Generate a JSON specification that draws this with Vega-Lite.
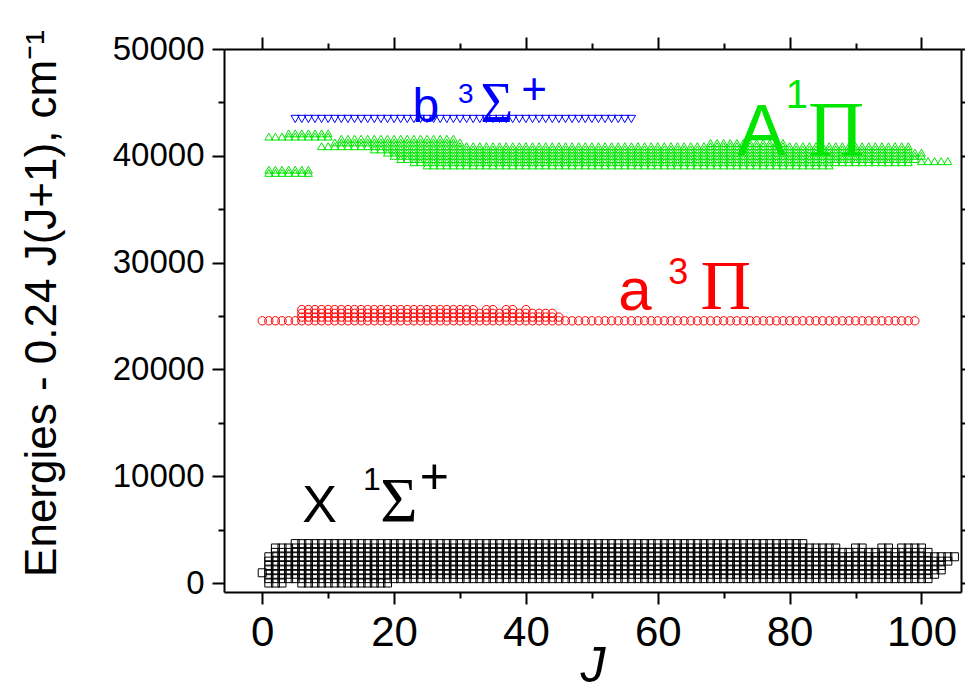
{
"$schema":"https://vega.github.io/schema/vega-lite/v6.json",
"width":737,"height":543,
"autosize":{"type":"none"},
"padding":{"left":224,"top":49,"right":4,"bottom":100},
"background":"white",
"config":{"view":{"stroke":null},"font":"Liberation Sans","axis":{"grid":false,"domainColor":"black","tickColor":"black","labelColor":"black","titleColor":"black","domainWidth":2,"tickWidth":2,"labelFont":"Liberation Sans","titleFont":"Liberation Sans","titleFontWeight":"normal"}},
"datasets":{
"X":[{"j":0,"e":960},
{"j":1,"e":0},{"j":2,"e":0},{"j":3,"e":0},{"j":6,"e":0},{"j":7,"e":0},{"j":8,"e":0},{"j":9,"e":0},{"j":10,"e":0},{"j":11,"e":0},{"j":12,"e":0},{"j":13,"e":0},{"j":14,"e":0},{"j":15,"e":0},{"j":16,"e":0},{"j":17,"e":0},{"j":18,"e":0},{"j":19,"e":0},
{"j":1,"e":410},{"j":2,"e":410},{"j":3,"e":410},{"j":4,"e":410},{"j":5,"e":410},{"j":6,"e":410},{"j":7,"e":410},{"j":8,"e":410},{"j":9,"e":410},{"j":10,"e":410},{"j":11,"e":410},{"j":12,"e":410},{"j":13,"e":410},{"j":14,"e":410},{"j":15,"e":410},{"j":16,"e":410},{"j":17,"e":410},{"j":18,"e":410},{"j":19,"e":410},{"j":20,"e":410},{"j":21,"e":410},{"j":22,"e":410},{"j":23,"e":410},{"j":24,"e":410},{"j":25,"e":410},{"j":26,"e":410},{"j":27,"e":410},{"j":28,"e":410},{"j":29,"e":410},{"j":30,"e":410},{"j":31,"e":410},{"j":32,"e":410},{"j":33,"e":410},{"j":34,"e":410},{"j":35,"e":410},{"j":36,"e":410},{"j":37,"e":410},{"j":38,"e":410},{"j":39,"e":410},{"j":40,"e":410},{"j":41,"e":410},{"j":42,"e":410},{"j":43,"e":410},{"j":44,"e":410},{"j":45,"e":410},{"j":46,"e":410},{"j":47,"e":410},{"j":48,"e":410},{"j":49,"e":410},{"j":50,"e":410},{"j":51,"e":410},{"j":52,"e":410},{"j":53,"e":410},{"j":54,"e":410},{"j":55,"e":410},{"j":56,"e":410},{"j":57,"e":410},{"j":58,"e":410},{"j":59,"e":410},{"j":60,"e":410},{"j":61,"e":410},{"j":62,"e":410},{"j":63,"e":410},{"j":64,"e":410},{"j":65,"e":410},{"j":66,"e":410},{"j":67,"e":410},{"j":68,"e":410},{"j":69,"e":410},{"j":70,"e":410},{"j":71,"e":410},{"j":72,"e":410},{"j":73,"e":410},{"j":74,"e":410},{"j":75,"e":410},{"j":76,"e":410},{"j":77,"e":410},{"j":78,"e":410},{"j":79,"e":410},{"j":80,"e":410},{"j":81,"e":410},{"j":82,"e":410},{"j":83,"e":410},{"j":84,"e":410},{"j":85,"e":410},{"j":86,"e":410},{"j":87,"e":410},{"j":88,"e":410},{"j":89,"e":410},{"j":90,"e":410},{"j":91,"e":410},{"j":92,"e":410},{"j":93,"e":410},{"j":94,"e":410},{"j":95,"e":410},{"j":96,"e":410},{"j":97,"e":410},{"j":98,"e":410},{"j":99,"e":410},{"j":100,"e":410},{"j":101,"e":410},
{"j":1,"e":820},{"j":2,"e":820},{"j":3,"e":820},{"j":4,"e":820},{"j":5,"e":820},{"j":6,"e":820},{"j":7,"e":820},{"j":8,"e":820},{"j":9,"e":820},{"j":10,"e":820},{"j":11,"e":820},{"j":12,"e":820},{"j":13,"e":820},{"j":14,"e":820},{"j":15,"e":820},{"j":16,"e":820},{"j":17,"e":820},{"j":18,"e":820},{"j":19,"e":820},{"j":20,"e":820},{"j":21,"e":820},{"j":22,"e":820},{"j":23,"e":820},{"j":24,"e":820},{"j":25,"e":820},{"j":26,"e":820},{"j":27,"e":820},{"j":28,"e":820},{"j":29,"e":820},{"j":30,"e":820},{"j":31,"e":820},{"j":32,"e":820},{"j":33,"e":820},{"j":34,"e":820},{"j":35,"e":820},{"j":36,"e":820},{"j":37,"e":820},{"j":38,"e":820},{"j":39,"e":820},{"j":40,"e":820},{"j":41,"e":820},{"j":42,"e":820},{"j":43,"e":820},{"j":44,"e":820},{"j":45,"e":820},{"j":46,"e":820},{"j":47,"e":820},{"j":48,"e":820},{"j":49,"e":820},{"j":50,"e":820},{"j":51,"e":820},{"j":52,"e":820},{"j":53,"e":820},{"j":54,"e":820},{"j":55,"e":820},{"j":56,"e":820},{"j":57,"e":820},{"j":58,"e":820},{"j":59,"e":820},{"j":60,"e":820},{"j":61,"e":820},{"j":62,"e":820},{"j":63,"e":820},{"j":64,"e":820},{"j":65,"e":820},{"j":66,"e":820},{"j":67,"e":820},{"j":68,"e":820},{"j":69,"e":820},{"j":70,"e":820},{"j":71,"e":820},{"j":72,"e":820},{"j":73,"e":820},{"j":74,"e":820},{"j":75,"e":820},{"j":76,"e":820},{"j":77,"e":820},{"j":78,"e":820},{"j":79,"e":820},{"j":80,"e":820},{"j":81,"e":820},{"j":82,"e":820},{"j":83,"e":820},{"j":84,"e":820},{"j":85,"e":820},{"j":86,"e":820},{"j":87,"e":820},{"j":88,"e":820},{"j":89,"e":820},{"j":90,"e":820},{"j":91,"e":820},{"j":92,"e":820},{"j":93,"e":820},{"j":94,"e":820},{"j":95,"e":820},{"j":96,"e":820},{"j":97,"e":820},{"j":98,"e":820},{"j":99,"e":820},{"j":100,"e":820},{"j":101,"e":820},{"j":102,"e":820},
{"j":1,"e":1230},{"j":2,"e":1230},{"j":3,"e":1230},{"j":4,"e":1230},{"j":5,"e":1230},{"j":6,"e":1230},{"j":7,"e":1230},{"j":8,"e":1230},{"j":9,"e":1230},{"j":10,"e":1230},{"j":11,"e":1230},{"j":12,"e":1230},{"j":13,"e":1230},{"j":14,"e":1230},{"j":15,"e":1230},{"j":16,"e":1230},{"j":17,"e":1230},{"j":18,"e":1230},{"j":19,"e":1230},{"j":20,"e":1230},{"j":21,"e":1230},{"j":22,"e":1230},{"j":23,"e":1230},{"j":24,"e":1230},{"j":25,"e":1230},{"j":26,"e":1230},{"j":27,"e":1230},{"j":28,"e":1230},{"j":29,"e":1230},{"j":30,"e":1230},{"j":31,"e":1230},{"j":32,"e":1230},{"j":33,"e":1230},{"j":34,"e":1230},{"j":35,"e":1230},{"j":36,"e":1230},{"j":37,"e":1230},{"j":38,"e":1230},{"j":39,"e":1230},{"j":40,"e":1230},{"j":41,"e":1230},{"j":42,"e":1230},{"j":43,"e":1230},{"j":44,"e":1230},{"j":45,"e":1230},{"j":46,"e":1230},{"j":47,"e":1230},{"j":48,"e":1230},{"j":49,"e":1230},{"j":50,"e":1230},{"j":51,"e":1230},{"j":52,"e":1230},{"j":53,"e":1230},{"j":54,"e":1230},{"j":55,"e":1230},{"j":56,"e":1230},{"j":57,"e":1230},{"j":58,"e":1230},{"j":59,"e":1230},{"j":60,"e":1230},{"j":61,"e":1230},{"j":62,"e":1230},{"j":63,"e":1230},{"j":64,"e":1230},{"j":65,"e":1230},{"j":66,"e":1230},{"j":67,"e":1230},{"j":68,"e":1230},{"j":69,"e":1230},{"j":70,"e":1230},{"j":71,"e":1230},{"j":72,"e":1230},{"j":73,"e":1230},{"j":74,"e":1230},{"j":75,"e":1230},{"j":76,"e":1230},{"j":77,"e":1230},{"j":78,"e":1230},{"j":79,"e":1230},{"j":80,"e":1230},{"j":81,"e":1230},{"j":82,"e":1230},{"j":83,"e":1230},{"j":84,"e":1230},{"j":85,"e":1230},{"j":86,"e":1230},{"j":87,"e":1230},{"j":88,"e":1230},{"j":89,"e":1230},{"j":90,"e":1230},{"j":91,"e":1230},{"j":92,"e":1230},{"j":93,"e":1230},{"j":94,"e":1230},{"j":95,"e":1230},{"j":96,"e":1230},{"j":97,"e":1230},{"j":98,"e":1230},{"j":99,"e":1230},{"j":100,"e":1230},{"j":101,"e":1230},{"j":102,"e":1230},{"j":103,"e":1230},
{"j":1,"e":1640},{"j":2,"e":1640},{"j":3,"e":1640},{"j":4,"e":1640},{"j":5,"e":1640},{"j":6,"e":1640},{"j":7,"e":1640},{"j":8,"e":1640},{"j":9,"e":1640},{"j":10,"e":1640},{"j":11,"e":1640},{"j":12,"e":1640},{"j":13,"e":1640},{"j":14,"e":1640},{"j":15,"e":1640},{"j":16,"e":1640},{"j":17,"e":1640},{"j":18,"e":1640},{"j":19,"e":1640},{"j":20,"e":1640},{"j":21,"e":1640},{"j":22,"e":1640},{"j":23,"e":1640},{"j":24,"e":1640},{"j":25,"e":1640},{"j":26,"e":1640},{"j":27,"e":1640},{"j":28,"e":1640},{"j":29,"e":1640},{"j":30,"e":1640},{"j":31,"e":1640},{"j":32,"e":1640},{"j":33,"e":1640},{"j":34,"e":1640},{"j":35,"e":1640},{"j":36,"e":1640},{"j":37,"e":1640},{"j":38,"e":1640},{"j":39,"e":1640},{"j":40,"e":1640},{"j":41,"e":1640},{"j":42,"e":1640},{"j":43,"e":1640},{"j":44,"e":1640},{"j":45,"e":1640},{"j":46,"e":1640},{"j":47,"e":1640},{"j":48,"e":1640},{"j":49,"e":1640},{"j":50,"e":1640},{"j":51,"e":1640},{"j":52,"e":1640},{"j":53,"e":1640},{"j":54,"e":1640},{"j":55,"e":1640},{"j":56,"e":1640},{"j":57,"e":1640},{"j":58,"e":1640},{"j":59,"e":1640},{"j":60,"e":1640},{"j":61,"e":1640},{"j":62,"e":1640},{"j":63,"e":1640},{"j":64,"e":1640},{"j":65,"e":1640},{"j":66,"e":1640},{"j":67,"e":1640},{"j":68,"e":1640},{"j":69,"e":1640},{"j":70,"e":1640},{"j":71,"e":1640},{"j":72,"e":1640},{"j":73,"e":1640},{"j":74,"e":1640},{"j":75,"e":1640},{"j":76,"e":1640},{"j":77,"e":1640},{"j":78,"e":1640},{"j":79,"e":1640},{"j":80,"e":1640},{"j":81,"e":1640},{"j":82,"e":1640},{"j":83,"e":1640},{"j":84,"e":1640},{"j":85,"e":1640},{"j":86,"e":1640},{"j":87,"e":1640},{"j":88,"e":1640},{"j":89,"e":1640},{"j":90,"e":1640},{"j":91,"e":1640},{"j":92,"e":1640},{"j":93,"e":1640},{"j":94,"e":1640},{"j":95,"e":1640},{"j":96,"e":1640},{"j":97,"e":1640},{"j":98,"e":1640},{"j":99,"e":1640},{"j":100,"e":1640},{"j":101,"e":1640},{"j":102,"e":1640},{"j":103,"e":1640},
{"j":1,"e":2050},{"j":2,"e":2050},{"j":3,"e":2050},{"j":4,"e":2050},{"j":5,"e":2050},{"j":6,"e":2050},{"j":7,"e":2050},{"j":8,"e":2050},{"j":9,"e":2050},{"j":10,"e":2050},{"j":11,"e":2050},{"j":12,"e":2050},{"j":13,"e":2050},{"j":14,"e":2050},{"j":15,"e":2050},{"j":16,"e":2050},{"j":17,"e":2050},{"j":18,"e":2050},{"j":19,"e":2050},{"j":20,"e":2050},{"j":21,"e":2050},{"j":22,"e":2050},{"j":23,"e":2050},{"j":24,"e":2050},{"j":25,"e":2050},{"j":26,"e":2050},{"j":27,"e":2050},{"j":28,"e":2050},{"j":29,"e":2050},{"j":30,"e":2050},{"j":31,"e":2050},{"j":32,"e":2050},{"j":33,"e":2050},{"j":34,"e":2050},{"j":35,"e":2050},{"j":36,"e":2050},{"j":37,"e":2050},{"j":38,"e":2050},{"j":39,"e":2050},{"j":40,"e":2050},{"j":41,"e":2050},{"j":42,"e":2050},{"j":43,"e":2050},{"j":44,"e":2050},{"j":45,"e":2050},{"j":46,"e":2050},{"j":47,"e":2050},{"j":48,"e":2050},{"j":49,"e":2050},{"j":50,"e":2050},{"j":51,"e":2050},{"j":52,"e":2050},{"j":53,"e":2050},{"j":54,"e":2050},{"j":55,"e":2050},{"j":56,"e":2050},{"j":57,"e":2050},{"j":58,"e":2050},{"j":59,"e":2050},{"j":60,"e":2050},{"j":61,"e":2050},{"j":62,"e":2050},{"j":63,"e":2050},{"j":64,"e":2050},{"j":65,"e":2050},{"j":66,"e":2050},{"j":67,"e":2050},{"j":68,"e":2050},{"j":69,"e":2050},{"j":70,"e":2050},{"j":71,"e":2050},{"j":72,"e":2050},{"j":73,"e":2050},{"j":74,"e":2050},{"j":75,"e":2050},{"j":76,"e":2050},{"j":77,"e":2050},{"j":78,"e":2050},{"j":79,"e":2050},{"j":80,"e":2050},{"j":81,"e":2050},{"j":82,"e":2050},{"j":83,"e":2050},{"j":84,"e":2050},{"j":85,"e":2050},{"j":86,"e":2050},{"j":87,"e":2050},{"j":88,"e":2050},{"j":89,"e":2050},{"j":90,"e":2050},{"j":91,"e":2050},{"j":92,"e":2050},{"j":93,"e":2050},{"j":94,"e":2050},{"j":95,"e":2050},{"j":96,"e":2050},{"j":97,"e":2050},{"j":98,"e":2050},{"j":99,"e":2050},{"j":100,"e":2050},{"j":101,"e":2050},{"j":102,"e":2050},{"j":103,"e":2050},{"j":104,"e":2050},
{"j":1,"e":2460},{"j":2,"e":2460},{"j":3,"e":2460},{"j":4,"e":2460},{"j":5,"e":2460},{"j":6,"e":2460},{"j":7,"e":2460},{"j":8,"e":2460},{"j":9,"e":2460},{"j":10,"e":2460},{"j":11,"e":2460},{"j":12,"e":2460},{"j":13,"e":2460},{"j":14,"e":2460},{"j":15,"e":2460},{"j":16,"e":2460},{"j":17,"e":2460},{"j":18,"e":2460},{"j":19,"e":2460},{"j":20,"e":2460},{"j":21,"e":2460},{"j":22,"e":2460},{"j":23,"e":2460},{"j":24,"e":2460},{"j":25,"e":2460},{"j":26,"e":2460},{"j":27,"e":2460},{"j":28,"e":2460},{"j":29,"e":2460},{"j":30,"e":2460},{"j":31,"e":2460},{"j":32,"e":2460},{"j":33,"e":2460},{"j":34,"e":2460},{"j":35,"e":2460},{"j":36,"e":2460},{"j":37,"e":2460},{"j":38,"e":2460},{"j":39,"e":2460},{"j":40,"e":2460},{"j":41,"e":2460},{"j":42,"e":2460},{"j":43,"e":2460},{"j":44,"e":2460},{"j":45,"e":2460},{"j":46,"e":2460},{"j":47,"e":2460},{"j":48,"e":2460},{"j":49,"e":2460},{"j":50,"e":2460},{"j":51,"e":2460},{"j":52,"e":2460},{"j":53,"e":2460},{"j":54,"e":2460},{"j":55,"e":2460},{"j":56,"e":2460},{"j":57,"e":2460},{"j":58,"e":2460},{"j":59,"e":2460},{"j":60,"e":2460},{"j":61,"e":2460},{"j":62,"e":2460},{"j":63,"e":2460},{"j":64,"e":2460},{"j":65,"e":2460},{"j":66,"e":2460},{"j":67,"e":2460},{"j":68,"e":2460},{"j":69,"e":2460},{"j":70,"e":2460},{"j":71,"e":2460},{"j":72,"e":2460},{"j":73,"e":2460},{"j":74,"e":2460},{"j":75,"e":2460},{"j":76,"e":2460},{"j":77,"e":2460},{"j":78,"e":2460},{"j":79,"e":2460},{"j":80,"e":2460},{"j":81,"e":2460},{"j":82,"e":2460},{"j":83,"e":2460},{"j":84,"e":2460},{"j":85,"e":2460},{"j":86,"e":2460},{"j":87,"e":2460},{"j":88,"e":2460},{"j":89,"e":2460},{"j":90,"e":2460},{"j":91,"e":2460},{"j":92,"e":2460},{"j":93,"e":2460},{"j":94,"e":2460},{"j":95,"e":2460},{"j":96,"e":2460},{"j":97,"e":2460},{"j":98,"e":2460},{"j":99,"e":2460},{"j":100,"e":2460},{"j":101,"e":2460},{"j":102,"e":2460},{"j":103,"e":2460},{"j":104,"e":2460},{"j":105,"e":2460},
{"j":2,"e":2870},{"j":3,"e":2870},{"j":4,"e":2870},{"j":5,"e":2870},{"j":6,"e":2870},{"j":7,"e":2870},{"j":8,"e":2870},{"j":9,"e":2870},{"j":10,"e":2870},{"j":11,"e":2870},{"j":12,"e":2870},{"j":13,"e":2870},{"j":14,"e":2870},{"j":15,"e":2870},{"j":16,"e":2870},{"j":17,"e":2870},{"j":18,"e":2870},{"j":19,"e":2870},{"j":20,"e":2870},{"j":21,"e":2870},{"j":22,"e":2870},{"j":23,"e":2870},{"j":24,"e":2870},{"j":25,"e":2870},{"j":26,"e":2870},{"j":27,"e":2870},{"j":28,"e":2870},{"j":29,"e":2870},{"j":30,"e":2870},{"j":31,"e":2870},{"j":32,"e":2870},{"j":33,"e":2870},{"j":34,"e":2870},{"j":35,"e":2870},{"j":36,"e":2870},{"j":37,"e":2870},{"j":38,"e":2870},{"j":39,"e":2870},{"j":40,"e":2870},{"j":41,"e":2870},{"j":42,"e":2870},{"j":43,"e":2870},{"j":44,"e":2870},{"j":45,"e":2870},{"j":46,"e":2870},{"j":47,"e":2870},{"j":48,"e":2870},{"j":49,"e":2870},{"j":50,"e":2870},{"j":51,"e":2870},{"j":52,"e":2870},{"j":53,"e":2870},{"j":54,"e":2870},{"j":55,"e":2870},{"j":56,"e":2870},{"j":57,"e":2870},{"j":58,"e":2870},{"j":59,"e":2870},{"j":60,"e":2870},{"j":61,"e":2870},{"j":62,"e":2870},{"j":63,"e":2870},{"j":64,"e":2870},{"j":65,"e":2870},{"j":66,"e":2870},{"j":67,"e":2870},{"j":68,"e":2870},{"j":69,"e":2870},{"j":70,"e":2870},{"j":71,"e":2870},{"j":72,"e":2870},{"j":73,"e":2870},{"j":74,"e":2870},{"j":75,"e":2870},{"j":76,"e":2870},{"j":77,"e":2870},{"j":78,"e":2870},{"j":79,"e":2870},{"j":80,"e":2870},{"j":81,"e":2870},{"j":82,"e":2870},{"j":83,"e":2870},{"j":84,"e":2870},{"j":85,"e":2870},{"j":86,"e":2870},{"j":87,"e":2870},{"j":88,"e":2870},{"j":89,"e":2870},{"j":90,"e":2870},{"j":91,"e":2870},{"j":92,"e":2870},{"j":93,"e":2870},{"j":94,"e":2870},{"j":95,"e":2870},{"j":96,"e":2870},{"j":97,"e":2870},{"j":98,"e":2870},{"j":99,"e":2870},{"j":100,"e":2870},{"j":101,"e":2870},
{"j":2,"e":3280},{"j":3,"e":3280},{"j":4,"e":3280},{"j":5,"e":3280},{"j":6,"e":3280},{"j":7,"e":3280},{"j":8,"e":3280},{"j":9,"e":3280},{"j":10,"e":3280},{"j":11,"e":3280},{"j":12,"e":3280},{"j":13,"e":3280},{"j":14,"e":3280},{"j":15,"e":3280},{"j":16,"e":3280},{"j":17,"e":3280},{"j":18,"e":3280},{"j":19,"e":3280},{"j":20,"e":3280},{"j":21,"e":3280},{"j":22,"e":3280},{"j":23,"e":3280},{"j":24,"e":3280},{"j":25,"e":3280},{"j":26,"e":3280},{"j":27,"e":3280},{"j":28,"e":3280},{"j":29,"e":3280},{"j":30,"e":3280},{"j":31,"e":3280},{"j":32,"e":3280},{"j":33,"e":3280},{"j":34,"e":3280},{"j":35,"e":3280},{"j":36,"e":3280},{"j":37,"e":3280},{"j":38,"e":3280},{"j":39,"e":3280},{"j":40,"e":3280},{"j":41,"e":3280},{"j":42,"e":3280},{"j":43,"e":3280},{"j":44,"e":3280},{"j":45,"e":3280},{"j":46,"e":3280},{"j":47,"e":3280},{"j":48,"e":3280},{"j":49,"e":3280},{"j":50,"e":3280},{"j":51,"e":3280},{"j":52,"e":3280},{"j":53,"e":3280},{"j":54,"e":3280},{"j":55,"e":3280},{"j":56,"e":3280},{"j":57,"e":3280},{"j":58,"e":3280},{"j":59,"e":3280},{"j":60,"e":3280},{"j":61,"e":3280},{"j":62,"e":3280},{"j":63,"e":3280},{"j":64,"e":3280},{"j":65,"e":3280},{"j":66,"e":3280},{"j":67,"e":3280},{"j":68,"e":3280},{"j":69,"e":3280},{"j":70,"e":3280},{"j":71,"e":3280},{"j":72,"e":3280},{"j":73,"e":3280},{"j":74,"e":3280},{"j":75,"e":3280},{"j":76,"e":3280},{"j":77,"e":3280},{"j":78,"e":3280},{"j":79,"e":3280},{"j":80,"e":3280},{"j":81,"e":3280},{"j":82,"e":3280},{"j":83,"e":3280},{"j":84,"e":3280},{"j":85,"e":3280},{"j":86,"e":3280},{"j":87,"e":3280},{"j":90,"e":3280},{"j":91,"e":3280},{"j":94,"e":3280},{"j":95,"e":3280},{"j":97,"e":3280},{"j":98,"e":3280},{"j":99,"e":3280},{"j":100,"e":3280},
{"j":5,"e":3690},{"j":6,"e":3690},{"j":7,"e":3690},{"j":8,"e":3690},{"j":9,"e":3690},{"j":10,"e":3690},{"j":11,"e":3690},{"j":12,"e":3690},{"j":13,"e":3690},{"j":14,"e":3690},{"j":15,"e":3690},{"j":16,"e":3690},{"j":17,"e":3690},{"j":18,"e":3690},{"j":19,"e":3690},{"j":20,"e":3690},{"j":21,"e":3690},{"j":22,"e":3690},{"j":23,"e":3690},{"j":24,"e":3690},{"j":25,"e":3690},{"j":26,"e":3690},{"j":27,"e":3690},{"j":28,"e":3690},{"j":29,"e":3690},{"j":30,"e":3690},{"j":31,"e":3690},{"j":32,"e":3690},{"j":33,"e":3690},{"j":34,"e":3690},{"j":35,"e":3690},{"j":36,"e":3690},{"j":37,"e":3690},{"j":38,"e":3690},{"j":39,"e":3690},{"j":40,"e":3690},{"j":41,"e":3690},{"j":42,"e":3690},{"j":43,"e":3690},{"j":44,"e":3690},{"j":45,"e":3690},{"j":46,"e":3690},{"j":47,"e":3690},{"j":48,"e":3690},{"j":49,"e":3690},{"j":50,"e":3690},{"j":51,"e":3690},{"j":52,"e":3690},{"j":53,"e":3690},{"j":54,"e":3690},{"j":55,"e":3690},{"j":56,"e":3690},{"j":57,"e":3690},{"j":58,"e":3690},{"j":59,"e":3690},{"j":60,"e":3690},{"j":61,"e":3690},{"j":62,"e":3690},{"j":63,"e":3690},{"j":64,"e":3690},{"j":65,"e":3690},{"j":66,"e":3690},{"j":67,"e":3690},{"j":68,"e":3690},{"j":69,"e":3690},{"j":70,"e":3690},{"j":71,"e":3690},{"j":72,"e":3690},{"j":73,"e":3690},{"j":74,"e":3690},{"j":75,"e":3690},{"j":76,"e":3690},{"j":77,"e":3690},{"j":78,"e":3690},{"j":79,"e":3690},{"j":80,"e":3690},{"j":81,"e":3690},{"j":82,"e":3690}],
"a":[{"j":0,"e":24550},{"j":1,"e":24550},{"j":2,"e":24550},{"j":3,"e":24550},{"j":4,"e":24550},{"j":5,"e":24550},{"j":6,"e":24550},{"j":7,"e":24550},{"j":8,"e":24550},{"j":9,"e":24550},{"j":10,"e":24550},{"j":11,"e":24550},{"j":12,"e":24550},{"j":13,"e":24550},{"j":14,"e":24550},{"j":15,"e":24550},{"j":16,"e":24550},{"j":17,"e":24550},{"j":18,"e":24550},{"j":19,"e":24550},{"j":20,"e":24550},{"j":21,"e":24550},{"j":22,"e":24550},{"j":23,"e":24550},{"j":24,"e":24550},{"j":25,"e":24550},{"j":26,"e":24550},{"j":27,"e":24550},{"j":28,"e":24550},{"j":29,"e":24550},{"j":30,"e":24550},{"j":31,"e":24550},{"j":32,"e":24550},{"j":33,"e":24550},{"j":34,"e":24550},{"j":35,"e":24550},{"j":36,"e":24550},{"j":37,"e":24550},{"j":38,"e":24550},{"j":39,"e":24550},{"j":40,"e":24550},{"j":41,"e":24550},{"j":42,"e":24550},{"j":43,"e":24550},{"j":44,"e":24550},{"j":45,"e":24550},{"j":46,"e":24550},{"j":47,"e":24550},{"j":48,"e":24550},{"j":49,"e":24550},{"j":50,"e":24550},{"j":51,"e":24550},{"j":52,"e":24550},{"j":53,"e":24550},{"j":54,"e":24550},{"j":55,"e":24550},{"j":56,"e":24550},{"j":57,"e":24550},{"j":58,"e":24550},{"j":59,"e":24550},{"j":60,"e":24550},{"j":61,"e":24550},{"j":62,"e":24550},{"j":63,"e":24550},{"j":64,"e":24550},{"j":65,"e":24550},{"j":66,"e":24550},{"j":67,"e":24550},{"j":68,"e":24550},{"j":69,"e":24550},{"j":70,"e":24550},{"j":71,"e":24550},{"j":72,"e":24550},{"j":73,"e":24550},{"j":74,"e":24550},{"j":75,"e":24550},{"j":76,"e":24550},{"j":77,"e":24550},{"j":78,"e":24550},{"j":79,"e":24550},{"j":80,"e":24550},{"j":81,"e":24550},{"j":82,"e":24550},{"j":83,"e":24550},{"j":84,"e":24550},{"j":85,"e":24550},{"j":86,"e":24550},{"j":87,"e":24550},{"j":88,"e":24550},{"j":89,"e":24550},{"j":90,"e":24550},{"j":91,"e":24550},{"j":92,"e":24550},{"j":93,"e":24550},{"j":94,"e":24550},{"j":95,"e":24550},{"j":96,"e":24550},{"j":97,"e":24550},{"j":98,"e":24550},{"j":99,"e":24550},
{"j":6,"e":24900},{"j":7,"e":24900},{"j":8,"e":24900},{"j":9,"e":24900},{"j":10,"e":24900},{"j":11,"e":24900},{"j":12,"e":24900},{"j":13,"e":24900},{"j":14,"e":24900},{"j":15,"e":24900},{"j":16,"e":24900},{"j":17,"e":24900},{"j":18,"e":24900},{"j":19,"e":24900},{"j":20,"e":24900},{"j":21,"e":24900},{"j":22,"e":24900},{"j":23,"e":24900},{"j":24,"e":24900},{"j":25,"e":24900},{"j":26,"e":24900},{"j":27,"e":24900},{"j":28,"e":24900},{"j":29,"e":24900},{"j":30,"e":24900},{"j":31,"e":24900},{"j":32,"e":24900},{"j":33,"e":24900},{"j":34,"e":24900},{"j":35,"e":24900},{"j":36,"e":24900},{"j":37,"e":24900},{"j":38,"e":24900},{"j":39,"e":24900},{"j":40,"e":24900},{"j":41,"e":24900},{"j":42,"e":24900},{"j":43,"e":24900},{"j":44,"e":24900},{"j":45,"e":24900},
{"j":6,"e":25250},{"j":7,"e":25250},{"j":8,"e":25250},{"j":9,"e":25250},{"j":10,"e":25250},{"j":11,"e":25250},{"j":12,"e":25250},{"j":13,"e":25250},{"j":14,"e":25250},{"j":15,"e":25250},{"j":16,"e":25250},{"j":17,"e":25250},{"j":18,"e":25250},{"j":19,"e":25250},{"j":20,"e":25250},{"j":21,"e":25250},{"j":22,"e":25250},{"j":23,"e":25250},{"j":24,"e":25250},{"j":25,"e":25250},{"j":26,"e":25250},{"j":27,"e":25250},{"j":28,"e":25250},{"j":29,"e":25250},{"j":30,"e":25250},{"j":31,"e":25250},{"j":32,"e":25250},{"j":33,"e":25250},{"j":34,"e":25250},{"j":35,"e":25250},{"j":36,"e":25250},{"j":37,"e":25250},{"j":38,"e":25250},{"j":39,"e":25250},{"j":40,"e":25250},{"j":41,"e":25250},{"j":42,"e":25250},{"j":43,"e":25250},{"j":44,"e":25250},
{"j":6,"e":25600},{"j":7,"e":25600},{"j":8,"e":25600},{"j":9,"e":25600},{"j":10,"e":25600},{"j":11,"e":25600},{"j":12,"e":25600},{"j":13,"e":25600},{"j":14,"e":25600},{"j":15,"e":25600},{"j":16,"e":25600},{"j":17,"e":25600},{"j":18,"e":25600},{"j":19,"e":25600},{"j":20,"e":25600},{"j":21,"e":25600},{"j":22,"e":25600},{"j":23,"e":25600},{"j":24,"e":25600},{"j":25,"e":25600},{"j":26,"e":25600},{"j":27,"e":25600},{"j":28,"e":25600},{"j":29,"e":25600},{"j":30,"e":25600},{"j":31,"e":25600},{"j":32,"e":25600},{"j":34,"e":25600},{"j":35,"e":25600},{"j":37,"e":25600},{"j":38,"e":25600},{"j":40,"e":25600}],
"A":[{"j":1,"e":38400},{"j":2,"e":38400},{"j":3,"e":38400},{"j":4,"e":38400},{"j":5,"e":38400},{"j":6,"e":38400},{"j":7,"e":38400},
{"j":1,"e":38700},{"j":2,"e":38700},{"j":3,"e":38700},{"j":4,"e":38700},{"j":5,"e":38700},{"j":6,"e":38700},{"j":7,"e":38700},
{"j":1,"e":41800},{"j":2,"e":41800},{"j":3,"e":41800},{"j":4,"e":41800},{"j":5,"e":41800},{"j":6,"e":41800},{"j":7,"e":41800},{"j":8,"e":41800},{"j":9,"e":41800},{"j":10,"e":41800},
{"j":4,"e":42100},{"j":5,"e":42100},{"j":6,"e":42100},{"j":7,"e":42100},{"j":8,"e":42100},{"j":9,"e":42100},{"j":10,"e":42100},
{"j":12,"e":41600},{"j":13,"e":41600},{"j":14,"e":41600},{"j":15,"e":41600},{"j":16,"e":41600},{"j":17,"e":41600},{"j":18,"e":41600},{"j":19,"e":41600},{"j":20,"e":41600},{"j":21,"e":41600},{"j":22,"e":41600},{"j":23,"e":41600},{"j":24,"e":41600},{"j":25,"e":41600},{"j":26,"e":41600},{"j":27,"e":41600},{"j":28,"e":41600},{"j":29,"e":41600},
{"j":11,"e":41250},{"j":12,"e":41250},{"j":13,"e":41250},{"j":14,"e":41250},{"j":15,"e":41250},{"j":16,"e":41250},{"j":17,"e":41250},{"j":18,"e":41250},{"j":19,"e":41250},{"j":20,"e":41250},{"j":21,"e":41250},{"j":22,"e":41250},{"j":23,"e":41250},{"j":24,"e":41250},{"j":25,"e":41250},{"j":26,"e":41250},{"j":27,"e":41250},{"j":28,"e":41250},{"j":29,"e":41250},{"j":30,"e":41250},
{"j":68,"e":41200},{"j":69,"e":41200},{"j":70,"e":41200},{"j":71,"e":41200},{"j":72,"e":41200},{"j":73,"e":41200},{"j":74,"e":41200},{"j":75,"e":41200},{"j":76,"e":41200},{"j":77,"e":41200},{"j":78,"e":41200},{"j":79,"e":41200},
{"j":9,"e":40900},{"j":10,"e":40900},{"j":11,"e":40900},{"j":12,"e":40900},{"j":13,"e":40900},{"j":14,"e":40900},{"j":15,"e":40900},{"j":16,"e":40900},{"j":17,"e":40900},{"j":18,"e":40900},{"j":19,"e":40900},{"j":20,"e":40900},{"j":21,"e":40900},{"j":22,"e":40900},{"j":23,"e":40900},{"j":24,"e":40900},{"j":25,"e":40900},{"j":26,"e":40900},{"j":27,"e":40900},{"j":28,"e":40900},{"j":29,"e":40900},{"j":30,"e":40900},{"j":31,"e":40900},{"j":32,"e":40900},{"j":33,"e":40900},{"j":34,"e":40900},{"j":35,"e":40900},{"j":36,"e":40900},{"j":37,"e":40900},{"j":38,"e":40900},{"j":39,"e":40900},{"j":40,"e":40900},{"j":41,"e":40900},{"j":42,"e":40900},{"j":43,"e":40900},{"j":44,"e":40900},{"j":45,"e":40900},{"j":46,"e":40900},{"j":47,"e":40900},{"j":48,"e":40900},{"j":49,"e":40900},{"j":50,"e":40900},{"j":51,"e":40900},{"j":52,"e":40900},{"j":53,"e":40900},{"j":54,"e":40900},{"j":55,"e":40900},{"j":56,"e":40900},{"j":57,"e":40900},{"j":58,"e":40900},{"j":59,"e":40900},{"j":60,"e":40900},{"j":61,"e":40900},{"j":62,"e":40900},{"j":63,"e":40900},{"j":64,"e":40900},{"j":65,"e":40900},{"j":66,"e":40900},{"j":67,"e":40900},{"j":68,"e":40900},{"j":69,"e":40900},{"j":70,"e":40900},{"j":71,"e":40900},{"j":72,"e":40900},{"j":73,"e":40900},{"j":74,"e":40900},{"j":75,"e":40900},{"j":76,"e":40900},{"j":77,"e":40900},{"j":78,"e":40900},{"j":79,"e":40900},{"j":80,"e":40900},{"j":81,"e":40900},{"j":82,"e":40900},{"j":83,"e":40900},{"j":84,"e":40900},{"j":85,"e":40900},{"j":86,"e":40900},{"j":87,"e":40900},{"j":88,"e":40900},{"j":89,"e":40900},{"j":90,"e":40900},{"j":91,"e":40900},{"j":92,"e":40900},{"j":93,"e":40900},{"j":94,"e":40900},{"j":95,"e":40900},{"j":96,"e":40900},{"j":97,"e":40900},{"j":98,"e":40900},
{"j":17,"e":40600},{"j":18,"e":40600},{"j":19,"e":40600},{"j":20,"e":40600},{"j":21,"e":40600},{"j":22,"e":40600},{"j":23,"e":40600},{"j":24,"e":40600},{"j":25,"e":40600},{"j":26,"e":40600},{"j":27,"e":40600},{"j":28,"e":40600},{"j":29,"e":40600},{"j":30,"e":40600},{"j":31,"e":40600},{"j":32,"e":40600},{"j":33,"e":40600},{"j":34,"e":40600},{"j":35,"e":40600},{"j":36,"e":40600},{"j":37,"e":40600},{"j":38,"e":40600},{"j":39,"e":40600},{"j":40,"e":40600},{"j":41,"e":40600},{"j":42,"e":40600},{"j":43,"e":40600},{"j":44,"e":40600},{"j":45,"e":40600},{"j":46,"e":40600},{"j":47,"e":40600},{"j":48,"e":40600},{"j":49,"e":40600},{"j":50,"e":40600},{"j":51,"e":40600},{"j":52,"e":40600},{"j":53,"e":40600},{"j":54,"e":40600},{"j":55,"e":40600},{"j":56,"e":40600},{"j":57,"e":40600},{"j":58,"e":40600},{"j":59,"e":40600},{"j":60,"e":40600},{"j":61,"e":40600},{"j":62,"e":40600},{"j":63,"e":40600},{"j":64,"e":40600},{"j":65,"e":40600},{"j":66,"e":40600},{"j":67,"e":40600},{"j":68,"e":40600},{"j":69,"e":40600},{"j":70,"e":40600},{"j":71,"e":40600},{"j":72,"e":40600},{"j":73,"e":40600},{"j":74,"e":40600},{"j":75,"e":40600},{"j":76,"e":40600},{"j":77,"e":40600},{"j":78,"e":40600},{"j":79,"e":40600},{"j":80,"e":40600},{"j":81,"e":40600},{"j":82,"e":40600},{"j":83,"e":40600},{"j":84,"e":40600},{"j":85,"e":40600},{"j":86,"e":40600},{"j":87,"e":40600},{"j":88,"e":40600},{"j":89,"e":40600},{"j":90,"e":40600},{"j":91,"e":40600},{"j":92,"e":40600},{"j":93,"e":40600},{"j":94,"e":40600},{"j":95,"e":40600},{"j":96,"e":40600},{"j":97,"e":40600},{"j":98,"e":40600},
{"j":19,"e":40300},{"j":20,"e":40300},{"j":21,"e":40300},{"j":22,"e":40300},{"j":23,"e":40300},{"j":24,"e":40300},{"j":25,"e":40300},{"j":26,"e":40300},{"j":27,"e":40300},{"j":28,"e":40300},{"j":29,"e":40300},{"j":30,"e":40300},{"j":31,"e":40300},{"j":32,"e":40300},{"j":33,"e":40300},{"j":34,"e":40300},{"j":35,"e":40300},{"j":36,"e":40300},{"j":37,"e":40300},{"j":38,"e":40300},{"j":39,"e":40300},{"j":40,"e":40300},{"j":41,"e":40300},{"j":42,"e":40300},{"j":43,"e":40300},{"j":44,"e":40300},{"j":45,"e":40300},{"j":46,"e":40300},{"j":47,"e":40300},{"j":48,"e":40300},{"j":49,"e":40300},{"j":50,"e":40300},{"j":51,"e":40300},{"j":52,"e":40300},{"j":53,"e":40300},{"j":54,"e":40300},{"j":55,"e":40300},{"j":56,"e":40300},{"j":57,"e":40300},{"j":58,"e":40300},{"j":59,"e":40300},{"j":60,"e":40300},{"j":61,"e":40300},{"j":62,"e":40300},{"j":63,"e":40300},{"j":64,"e":40300},{"j":65,"e":40300},{"j":66,"e":40300},{"j":67,"e":40300},{"j":68,"e":40300},{"j":69,"e":40300},{"j":70,"e":40300},{"j":71,"e":40300},{"j":72,"e":40300},{"j":73,"e":40300},{"j":74,"e":40300},{"j":75,"e":40300},{"j":76,"e":40300},{"j":77,"e":40300},{"j":78,"e":40300},{"j":79,"e":40300},{"j":80,"e":40300},{"j":81,"e":40300},{"j":82,"e":40300},{"j":83,"e":40300},{"j":84,"e":40300},{"j":85,"e":40300},{"j":86,"e":40300},{"j":87,"e":40300},{"j":88,"e":40300},{"j":89,"e":40300},{"j":90,"e":40300},{"j":91,"e":40300},{"j":92,"e":40300},{"j":93,"e":40300},{"j":94,"e":40300},{"j":95,"e":40300},{"j":96,"e":40300},{"j":97,"e":40300},{"j":98,"e":40300},{"j":99,"e":40300},{"j":100,"e":40300},
{"j":20,"e":40000},{"j":21,"e":40000},{"j":22,"e":40000},{"j":23,"e":40000},{"j":24,"e":40000},{"j":25,"e":40000},{"j":26,"e":40000},{"j":27,"e":40000},{"j":28,"e":40000},{"j":29,"e":40000},{"j":30,"e":40000},{"j":31,"e":40000},{"j":32,"e":40000},{"j":33,"e":40000},{"j":34,"e":40000},{"j":35,"e":40000},{"j":36,"e":40000},{"j":37,"e":40000},{"j":38,"e":40000},{"j":39,"e":40000},{"j":40,"e":40000},{"j":41,"e":40000},{"j":42,"e":40000},{"j":43,"e":40000},{"j":44,"e":40000},{"j":45,"e":40000},{"j":46,"e":40000},{"j":47,"e":40000},{"j":48,"e":40000},{"j":49,"e":40000},{"j":50,"e":40000},{"j":51,"e":40000},{"j":52,"e":40000},{"j":53,"e":40000},{"j":54,"e":40000},{"j":55,"e":40000},{"j":56,"e":40000},{"j":57,"e":40000},{"j":58,"e":40000},{"j":59,"e":40000},{"j":60,"e":40000},{"j":61,"e":40000},{"j":62,"e":40000},{"j":63,"e":40000},{"j":64,"e":40000},{"j":65,"e":40000},{"j":66,"e":40000},{"j":67,"e":40000},{"j":68,"e":40000},{"j":69,"e":40000},{"j":70,"e":40000},{"j":71,"e":40000},{"j":72,"e":40000},{"j":73,"e":40000},{"j":74,"e":40000},{"j":75,"e":40000},{"j":76,"e":40000},{"j":77,"e":40000},{"j":78,"e":40000},{"j":79,"e":40000},{"j":80,"e":40000},{"j":81,"e":40000},{"j":82,"e":40000},{"j":83,"e":40000},{"j":84,"e":40000},{"j":85,"e":40000},{"j":86,"e":40000},{"j":87,"e":40000},{"j":88,"e":40000},{"j":89,"e":40000},{"j":90,"e":40000},{"j":91,"e":40000},{"j":92,"e":40000},{"j":93,"e":40000},{"j":94,"e":40000},{"j":95,"e":40000},{"j":96,"e":40000},{"j":97,"e":40000},{"j":98,"e":40000},{"j":99,"e":40000},{"j":100,"e":40000},
{"j":21,"e":39700},{"j":22,"e":39700},{"j":23,"e":39700},{"j":24,"e":39700},{"j":25,"e":39700},{"j":26,"e":39700},{"j":27,"e":39700},{"j":28,"e":39700},{"j":29,"e":39700},{"j":30,"e":39700},{"j":31,"e":39700},{"j":32,"e":39700},{"j":33,"e":39700},{"j":34,"e":39700},{"j":35,"e":39700},{"j":36,"e":39700},{"j":37,"e":39700},{"j":38,"e":39700},{"j":39,"e":39700},{"j":40,"e":39700},{"j":41,"e":39700},{"j":42,"e":39700},{"j":43,"e":39700},{"j":44,"e":39700},{"j":45,"e":39700},{"j":46,"e":39700},{"j":47,"e":39700},{"j":48,"e":39700},{"j":49,"e":39700},{"j":50,"e":39700},{"j":51,"e":39700},{"j":52,"e":39700},{"j":53,"e":39700},{"j":54,"e":39700},{"j":55,"e":39700},{"j":56,"e":39700},{"j":57,"e":39700},{"j":58,"e":39700},{"j":59,"e":39700},{"j":60,"e":39700},{"j":61,"e":39700},{"j":62,"e":39700},{"j":63,"e":39700},{"j":64,"e":39700},{"j":65,"e":39700},{"j":66,"e":39700},{"j":67,"e":39700},{"j":68,"e":39700},{"j":69,"e":39700},{"j":70,"e":39700},{"j":71,"e":39700},{"j":72,"e":39700},{"j":73,"e":39700},{"j":74,"e":39700},{"j":75,"e":39700},{"j":76,"e":39700},{"j":77,"e":39700},{"j":78,"e":39700},{"j":79,"e":39700},{"j":80,"e":39700},{"j":81,"e":39700},{"j":82,"e":39700},{"j":83,"e":39700},{"j":84,"e":39700},{"j":85,"e":39700},{"j":86,"e":39700},{"j":87,"e":39700},{"j":88,"e":39700},{"j":89,"e":39700},{"j":90,"e":39700},{"j":91,"e":39700},{"j":92,"e":39700},{"j":93,"e":39700},{"j":94,"e":39700},{"j":95,"e":39700},{"j":96,"e":39700},{"j":97,"e":39700},{"j":98,"e":39700},{"j":99,"e":39700},
{"j":23,"e":39400},{"j":24,"e":39400},{"j":25,"e":39400},{"j":26,"e":39400},{"j":27,"e":39400},{"j":28,"e":39400},{"j":29,"e":39400},{"j":30,"e":39400},{"j":31,"e":39400},{"j":32,"e":39400},{"j":33,"e":39400},{"j":34,"e":39400},{"j":35,"e":39400},{"j":36,"e":39400},{"j":37,"e":39400},{"j":38,"e":39400},{"j":39,"e":39400},{"j":40,"e":39400},{"j":41,"e":39400},{"j":42,"e":39400},{"j":43,"e":39400},{"j":44,"e":39400},{"j":45,"e":39400},{"j":46,"e":39400},{"j":47,"e":39400},{"j":48,"e":39400},{"j":49,"e":39400},{"j":50,"e":39400},{"j":51,"e":39400},{"j":52,"e":39400},{"j":53,"e":39400},{"j":54,"e":39400},{"j":55,"e":39400},{"j":56,"e":39400},{"j":57,"e":39400},{"j":58,"e":39400},{"j":59,"e":39400},{"j":60,"e":39400},{"j":61,"e":39400},{"j":62,"e":39400},{"j":63,"e":39400},{"j":64,"e":39400},{"j":65,"e":39400},{"j":66,"e":39400},{"j":67,"e":39400},{"j":68,"e":39400},{"j":69,"e":39400},{"j":70,"e":39400},{"j":71,"e":39400},{"j":72,"e":39400},{"j":73,"e":39400},{"j":74,"e":39400},{"j":75,"e":39400},{"j":76,"e":39400},{"j":77,"e":39400},{"j":78,"e":39400},{"j":79,"e":39400},{"j":80,"e":39400},{"j":81,"e":39400},{"j":82,"e":39400},{"j":83,"e":39400},{"j":84,"e":39400},{"j":85,"e":39400},{"j":86,"e":39400},{"j":87,"e":39400},{"j":88,"e":39400},{"j":89,"e":39400},{"j":90,"e":39400},{"j":91,"e":39400},{"j":92,"e":39400},{"j":93,"e":39400},{"j":94,"e":39400},{"j":95,"e":39400},{"j":96,"e":39400},{"j":97,"e":39400},{"j":98,"e":39400},
{"j":25,"e":39100},{"j":26,"e":39100},{"j":27,"e":39100},{"j":28,"e":39100},{"j":29,"e":39100},{"j":30,"e":39100},{"j":31,"e":39100},{"j":32,"e":39100},{"j":33,"e":39100},{"j":34,"e":39100},{"j":35,"e":39100},{"j":36,"e":39100},{"j":37,"e":39100},{"j":38,"e":39100},{"j":39,"e":39100},{"j":40,"e":39100},{"j":41,"e":39100},{"j":42,"e":39100},{"j":43,"e":39100},{"j":44,"e":39100},{"j":45,"e":39100},{"j":46,"e":39100},{"j":47,"e":39100},{"j":48,"e":39100},{"j":49,"e":39100},{"j":50,"e":39100},{"j":51,"e":39100},{"j":52,"e":39100},{"j":53,"e":39100},{"j":54,"e":39100},{"j":55,"e":39100},{"j":56,"e":39100},{"j":57,"e":39100},{"j":58,"e":39100},{"j":59,"e":39100},{"j":60,"e":39100},{"j":61,"e":39100},{"j":62,"e":39100},{"j":63,"e":39100},{"j":64,"e":39100},{"j":65,"e":39100},{"j":66,"e":39100},{"j":67,"e":39100},{"j":68,"e":39100},{"j":69,"e":39100},{"j":70,"e":39100},{"j":71,"e":39100},{"j":72,"e":39100},{"j":73,"e":39100},{"j":74,"e":39100},{"j":75,"e":39100},{"j":76,"e":39100},{"j":77,"e":39100},{"j":78,"e":39100},{"j":79,"e":39100},{"j":80,"e":39100},{"j":81,"e":39100},{"j":82,"e":39100},{"j":83,"e":39100},{"j":84,"e":39100},{"j":85,"e":39100},{"j":86,"e":39100},
{"j":100,"e":39500},{"j":101,"e":39500},{"j":102,"e":39500},{"j":103,"e":39500},{"j":104,"e":39500}],
"b":[{"j":5,"e":43450},{"j":6,"e":43450},{"j":7,"e":43450},{"j":8,"e":43450},{"j":9,"e":43450},{"j":10,"e":43450},{"j":11,"e":43450},{"j":12,"e":43450},{"j":13,"e":43450},{"j":14,"e":43450},{"j":15,"e":43450},{"j":16,"e":43450},{"j":17,"e":43450},{"j":18,"e":43450},{"j":19,"e":43450},{"j":20,"e":43450},{"j":21,"e":43450},{"j":22,"e":43450},{"j":23,"e":43450},{"j":24,"e":43450},{"j":25,"e":43450},{"j":26,"e":43450},{"j":27,"e":43450},{"j":28,"e":43450},{"j":29,"e":43450},{"j":30,"e":43450},{"j":31,"e":43450},{"j":32,"e":43450},{"j":33,"e":43450},{"j":34,"e":43450},{"j":35,"e":43450},{"j":36,"e":43450},{"j":37,"e":43450},{"j":38,"e":43450},{"j":39,"e":43450},{"j":40,"e":43450},{"j":41,"e":43450},{"j":42,"e":43450},{"j":43,"e":43450},{"j":44,"e":43450},{"j":45,"e":43450},{"j":46,"e":43450},{"j":47,"e":43450},{"j":48,"e":43450},{"j":49,"e":43450},{"j":50,"e":43450},{"j":51,"e":43450},{"j":52,"e":43450},{"j":53,"e":43450},{"j":54,"e":43450},{"j":55,"e":43450},{"j":56,"e":43450}],
"lab":[
{"s":"b","k":"m","t":"b","j":22.8,"e":43165},
{"s":"b","k":"p","t":"3","j":29.7,"e":44940},
{"s":"b","k":"g","t":"Σ","j":33.1,"e":43165},
{"s":"b","k":"q","t":"+","j":39.3,"e":44850},
{"s":"A","k":"m","t":"A","j":72.1,"e":40075},
{"s":"A","k":"p","t":"1","j":79.4,"e":44476},
{"s":"A","k":"g","t":"Π","j":82.8,"e":40075},
{"s":"a","k":"m","t":"a","j":54.0,"e":25560},
{"s":"a","k":"p","t":"3","j":61.6,"e":28000},
{"s":"a","k":"g","t":"Π","j":66.5,"e":25655},
{"s":"X","k":"m","t":"X","j":6.07,"e":5712},
{"s":"X","k":"p","t":"1","j":15.3,"e":8708},
{"s":"X","k":"g","t":"Σ","j":17.9,"e":5712},
{"s":"X","k":"q","t":"+","j":23.9,"e":8430}]
},
"layer":[
{"data":{"name":"X"},"mark":{"type":"point","shape":"square","filled":false,"color":"black","size":64,"strokeWidth":1,"opacity":1},
"encoding":{
"x":{"field":"j","type":"quantitative","scale":{"domain":[-5.8,106],"nice":false,"zero":false},
 "axis":{"orient":"bottom","values":[0,10,20,30,40,50,60,70,80,90,100],"labelExpr":"datum.value % 20 === 0 ? datum.label : ''","tickSize":{"condition":{"test":"datum.value % 20 !== 0","value":6},"value":12},"labelFontSize":42,"labelPadding":8,"title":"J","titleFontSize":50,"titleFontStyle":"italic","titlePadding":-12}},
"y":{"field":"e","type":"quantitative","scale":{"domain":[-840,50000],"nice":false,"zero":false},
 "axis":{"orient":"left","values":[0,5000,10000,15000,20000,25000,30000,35000,40000,45000,50000],"format":"d","labelExpr":"datum.value % 10000 === 0 ? datum.label : ''","tickSize":{"condition":{"test":"datum.value % 10000 !== 0","value":6},"value":12},"labelFontSize":33,"labelPadding":8,"title":"Energies - 0.24 J(J+1), cm⁻¹","titleFontSize":44,"titlePadding":48,"titleY":254}}}},
{"data":{"name":"b"},"mark":{"type":"point","shape":"triangle-down","filled":false,"color":"#0000ff","size":70,"strokeWidth":1,"opacity":1},
"encoding":{
"x":{"field":"j","type":"quantitative","axis":{"orient":"top","values":[0,10,20,30,40,50,60,70,80,90,100],"labels":false,"title":null,"tickSize":{"condition":{"test":"datum.value % 20 !== 0","value":6},"value":12}}},
"y":{"field":"e","type":"quantitative","axis":{"orient":"right","values":[0,5000,10000,15000,20000,25000,30000,35000,40000,45000,50000],"labels":false,"title":null,"tickSize":{"condition":{"test":"datum.value % 10000 !== 0","value":6},"value":12}}}}},
{"data":{"name":"a"},"mark":{"type":"point","shape":"circle","filled":false,"color":"#ff0000","size":70,"strokeWidth":1,"opacity":1},
"encoding":{"x":{"field":"j","type":"quantitative","axis":null},"y":{"field":"e","type":"quantitative","axis":null}}},
{"data":{"name":"A"},"mark":{"type":"point","shape":"triangle-up","filled":false,"color":"#00e600","size":64,"strokeWidth":1,"opacity":1},
"encoding":{"x":{"field":"j","type":"quantitative","axis":null},"y":{"field":"e","type":"quantitative","axis":null}}},
{"data":{"name":"lab"},"transform":[{"filter":"datum.k === 'm'"}],"mark":{"type":"text","align":"left","baseline":"alphabetic","font":"Liberation Sans"},
"encoding":{"x":{"field":"j","type":"quantitative","axis":null},"y":{"field":"e","type":"quantitative","axis":null},"text":{"field":"t"},
"color":{"field":"s","type":"nominal","scale":{"domain":["b","A","a","X"],"range":["#0000ff","#00e600","#ff0000","#000000"]},"legend":null},
"size":{"field":"s","type":"ordinal","scale":{"type":"ordinal","domain":["b","A","a","X"],"range":[48,72,60,52]},"legend":null}}},
{"data":{"name":"lab"},"transform":[{"filter":"datum.k === 'g'"}],"mark":{"type":"text","align":"left","baseline":"alphabetic","font":"Liberation Serif"},
"encoding":{"x":{"field":"j","type":"quantitative","axis":null},"y":{"field":"e","type":"quantitative","axis":null},"text":{"field":"t"},
"color":{"field":"s","type":"nominal","scale":{"domain":["b","A","a","X"],"range":["#0000ff","#00e600","#ff0000","#000000"]},"legend":null},
"size":{"field":"s","type":"ordinal","scale":{"type":"ordinal","domain":["b","A","a","X"],"range":[56,78,70,64]},"legend":null}}},
{"data":{"name":"lab"},"transform":[{"filter":"datum.k === 'q'"}],"mark":{"type":"text","align":"left","baseline":"alphabetic","font":"Liberation Sans"},
"encoding":{"x":{"field":"j","type":"quantitative","axis":null},"y":{"field":"e","type":"quantitative","axis":null},"text":{"field":"t"},
"color":{"field":"s","type":"nominal","scale":{"domain":["b","A","a","X"],"range":["#0000ff","#00e600","#ff0000","#000000"]},"legend":null},
"size":{"field":"s","type":"ordinal","scale":{"type":"ordinal","domain":["b","A","a","X"],"range":[44,44,44,50]},"legend":null}}},
{"data":{"name":"lab"},"transform":[{"filter":"datum.k === 'p'"}],"mark":{"type":"text","align":"left","baseline":"alphabetic","font":"Liberation Sans"},
"encoding":{"x":{"field":"j","type":"quantitative","axis":null},"y":{"field":"e","type":"quantitative","axis":null},"text":{"field":"t"},
"color":{"field":"s","type":"nominal","scale":{"domain":["b","A","a","X"],"range":["#0000ff","#00e600","#ff0000","#000000"]},"legend":null},
"size":{"field":"s","type":"ordinal","scale":{"type":"ordinal","domain":["b","A","a","X"],"range":[28,40,36,32]},"legend":null}}}
],
"resolve":{"axis":{"x":"independent","y":"independent"},"scale":{"size":"independent"}}
}
